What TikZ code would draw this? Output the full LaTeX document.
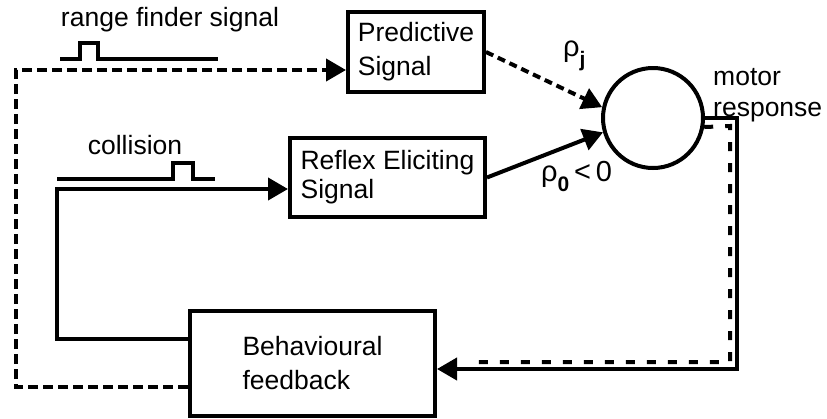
\documentclass[tikz,border=0pt]{standalone}
\usepackage{fontspec}
\setmainfont{Liberation Sans}
\usetikzlibrary{arrows.meta}

\tikzset{
  blk/.style={draw, line width=4pt, inner sep=0pt, align=left},
  wire/.style={line width=4pt},
  dline/.style={line width=4pt, dash pattern=on 10pt off 5pt},
  fbline/.style={line width=4pt, dash pattern=on 9pt off 12pt},
  pulse/.style={line width=3.5pt},
  tip/.style={-{Triangle[length=20pt,width=22pt]}},
  lbl/.style={inner sep=0pt, font=\fontsize{26.5}{30}\selectfont},
  wgt/.style={inner sep=0pt, anchor=west, font=\fontsize{29}{30}\selectfont}
}

\begin{document}
\begin{tikzpicture}[x=1pt, y=-1pt]
  \useasboundingbox (0,0) rectangle (827,418);

  % boxes and the summing neuron
  \node[blk, minimum width=136pt, minimum height=80pt, font=\fontsize{26.5}{34}\selectfont] (pred) at (416,52) {Predictive\\Signal};
  \node[blk, minimum width=195pt, minimum height=79pt, font=\fontsize{26.5}{29}\selectfont] (refl) at (387.5,177.5) {Reflex Eliciting\\Signal};
  \node[blk, minimum width=245pt, minimum height=105pt, font=\fontsize{26.5}{34}\selectfont] (beh) at (312.5,363.5) {Behavioural\\feedback};
  \node[draw, circle, line width=4pt, minimum size=100pt, inner sep=0pt] (circ) at (653,118) {};

  % input signals
  \node[lbl] (rfs) at (170,20) {range finder signal};
  \draw[pulse] (60,59) -- (80,59) -- (80,43) -- (98,43) -- (98,59) -- (218,59);
  \node[lbl] (col) at (135,145) {collision};
  \draw[pulse] (57,179) -- (173,179) -- (173,163) -- (193,163) -- (193,179) -- (215,179);

  % weights
  \node[wgt] (rhoj) at (563,56) {ρ\raisebox{-10pt}{\fontsize{21}{21}\selectfont\bfseries j}};
  \node[wgt] (rho0) at (541,176) {ρ\raisebox{-10pt}{\fontsize{21}{21}\selectfont\bfseries 0}\,<\,0};

  \node[lbl, anchor=west, font=\fontsize{26.5}{31}\selectfont, align=left] (mot) at (713,95) {motor\\response};

  % feedback loops
  \draw[dline, tip] ([yshift=-23.5pt]beh.west) -| (16,70) -- ([yshift=-18pt]pred.west);
  \draw[wire, tip] ([yshift=24.5pt]beh.west) -| (57,189) -- ([yshift=-11.5pt]refl.west);
  \draw[wire, tip] (circ.east) -| (737,369) -- ([yshift=-5.5pt]beh.east);
  \draw[fbline] (circ.-10) -- (730,126) -- (730,362) -- (467,362);

  % connections into the neuron
  \draw[dline, dash pattern=on 8pt off 5pt, tip] (pred.east) -- (circ.168);
  \draw[wire, tip] (refl.east) -- (circ.196);
\end{tikzpicture}
\end{document}
